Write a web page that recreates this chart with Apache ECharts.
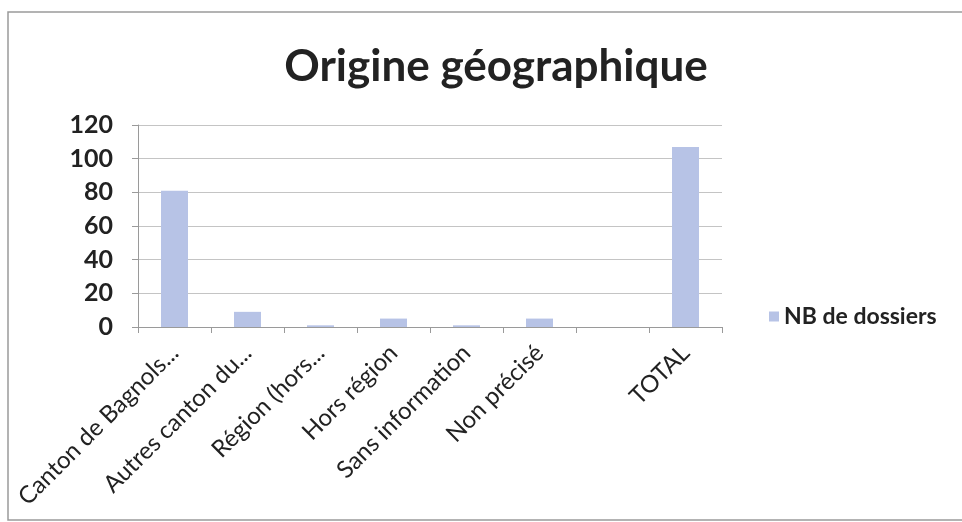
<!DOCTYPE html>
<html>
<head>
<meta charset="utf-8">
<script src="https://cdn.jsdelivr.net/npm/echarts@6/dist/echarts.min.js"></script>
<style>
html,body{margin:0;padding:0;background:#fff;}
#chart{width:962px;height:522px;}
</style>
</head>
<body>
<div id="chart"></div>
<script>
// categories and values
var categories = ['Canton de Bagnols...', 'Autres canton du...', 'Région (hors...', 'Hors région', 'Sans information', 'Non précisé', '', 'TOTAL'];
var nbDossiers = [81, 9, 1, 5, 1, 5, 0, 107];
var yTicks = [0, 20, 40, 60, 80, 100, 120];

var myChart = echarts.init(document.getElementById('chart'));
myChart.setOption({
  animation: false,
  textStyle: {fontFamily: 'Lato'},
  title: {
    text: 'Origine géographique',
    left: 491, top: 40, textAlign: 'center',
    textStyle: {fontFamily: 'Lato', fontSize: 44, fontWeight: 'bold', color: '#222'}
  },
  graphic: [{
    type: 'rect',
    shape: {x: 8, y: 12, width: 1000, height: 508},
    style: {fill: 'none', stroke: '#9a9a9a', lineWidth: 1.5},
    silent: true
  }],
  legend: {
    left: 764, top: 300,
    itemWidth: 10, itemHeight: 10, itemGap: 9,
    textStyle: {fontFamily: 'Lato', fontSize: 23, fontWeight: 'bold', color: '#222'},
    data: [{name: 'NB de dossiers', icon: 'rect'}]
  },
  grid: {left: 138, right: 240, top: 125, bottom: 195},
  xAxis: {
    type: 'category',
    data: categories,
    axisLine: {lineStyle: {color: '#9a9a9a', width: 1}},
    axisTick: {show: true, length: 6, lineStyle: {color: '#9a9a9a'}},
    axisLabel: {
      rotate: 45, interval: 0, margin: 22,
      fontFamily: 'Lato', fontSize: 24, color: '#222'
    }
  },
  yAxis: {
    type: 'value',
    min: yTicks[0], max: yTicks[yTicks.length - 1], interval: 20,
    axisLine: {show: true, lineStyle: {color: '#9a9a9a'}},
    axisTick: {show: true, inside: false, length: 6, lineStyle: {color: '#9a9a9a'}},
    splitLine: {lineStyle: {color: '#c4c4c4'}},
    axisLabel: {margin: 25, fontFamily: 'Lato', fontSize: 25, fontWeight: 'bold', color: '#222'}
  },
  series: [{
    name: 'NB de dossiers',
    type: 'bar',
    data: nbDossiers,
    barWidth: '37%',
    itemStyle: {color: '#b7c3e6'}
  }]
});
</script>
</body>
</html>
